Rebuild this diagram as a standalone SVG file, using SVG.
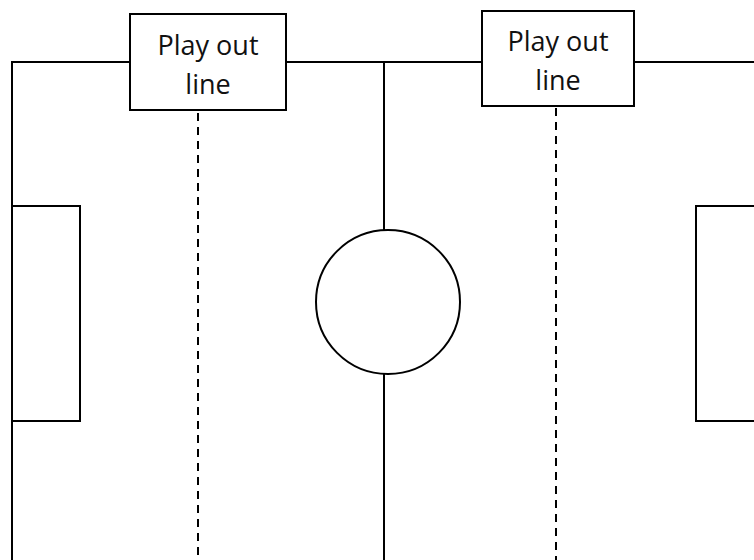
<svg xmlns="http://www.w3.org/2000/svg" width="754" height="560" viewBox="0 0 754 560">
<style>
.ln{fill:none;stroke:#000;stroke-width:2}
.dash{fill:none;stroke:#000;stroke-width:2;stroke-dasharray:8 6}
.box{fill:#fff;stroke:#000;stroke-width:2}
.lbl{font-family:"Open Sans","Liberation Sans",sans-serif;font-size:27px;fill:#111;text-anchor:middle}
</style>
<rect width="754" height="560" fill="#fff"/>
<g id="connectors">
<polyline class="ln" points="12,560 12,62 754,62"/>
<line class="ln" x1="384" y1="62" x2="384" y2="230"/>
<line class="ln" x1="384" y1="374" x2="384" y2="560"/>
<line class="dash" x1="198" y1="113" x2="198" y2="560"/>
<line class="dash" x1="556" y1="108" x2="556" y2="560"/>
</g>
<g id="left-penalty-box"><polyline class="ln" points="12,206 80,206 80,421 12,421"/></g>
<g id="right-penalty-box"><polyline class="ln" points="754,206 696,206 696,421 754,421"/></g>
<g id="centre-circle"><circle class="ln" cx="388" cy="302" r="72"/></g>
<g id="play-out-line-1">
<rect class="box" x="130" y="14" width="156" height="96"/>
<text class="lbl" x="208" y="55">Play out</text>
<text class="lbl" x="208" y="94">line</text>
</g>
<g id="play-out-line-2">
<rect class="box" x="482" y="11" width="152" height="95"/>
<text class="lbl" x="558" y="51">Play out</text>
<text class="lbl" x="558" y="90">line</text>
</g>
</svg>
